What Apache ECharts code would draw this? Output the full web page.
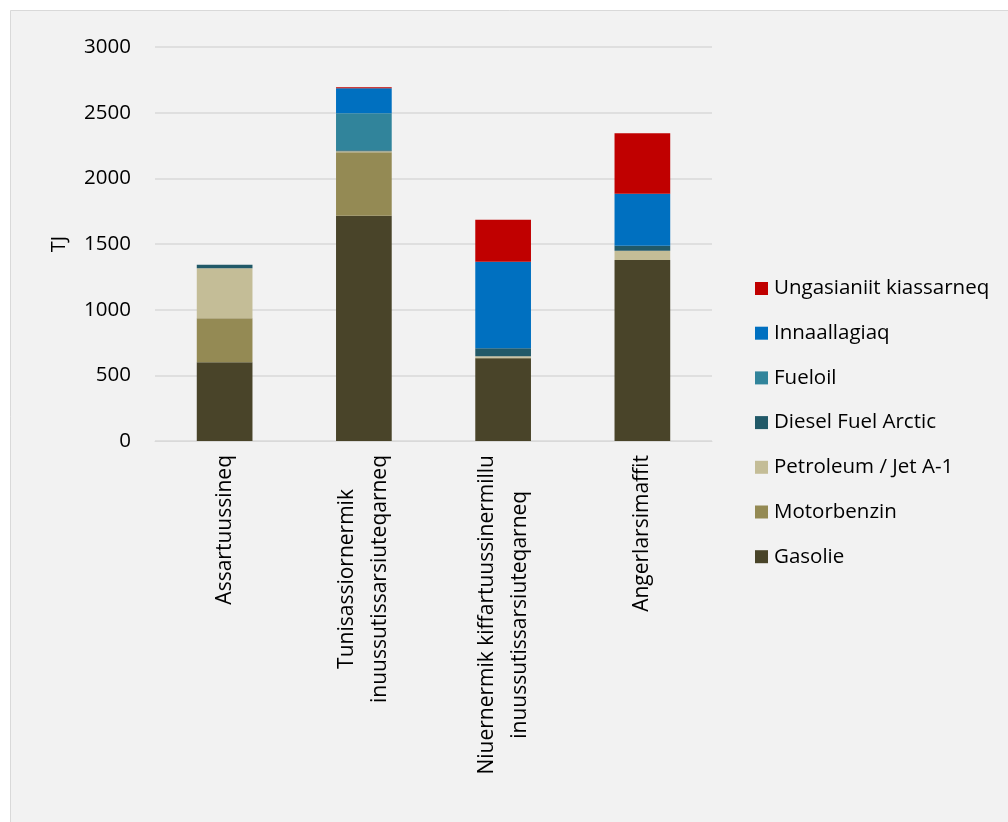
<!DOCTYPE html>
<html><head><meta charset="utf-8">
<script src="https://cdn.jsdelivr.net/npm/echarts@6/dist/echarts.min.js"></script>
<style>html,body{margin:0;padding:0;background:#fff}#c{width:1008px;height:822px}</style>
</head><body><div id="c"></div>
<script>
const categories = ['Assartuussineq', 'Tunisassiornermik\ninuussutissarsiuteqarneq', 'Niuernermik kiffartuussinermillu\ninuussutissarsiuteqarneq', 'Angerlarsimaffit'];
const seriesNames = ['Gasolie', 'Motorbenzin', 'Petroleum / Jet A-1', 'Diesel Fuel Arctic', 'Fueloil', 'Innaallagiaq', 'Ungasianiit kiassarneq'];
const gasolie = [600, 1716, 630, 1379];
const motorbenzin = [335, 482, 4, 0];
const petroleum = [381, 8, 12, 69];
const diesel = [26, 8, 61, 38];
const fueloil = [0, 282, 0, 0];
const innaallagiaq = [0, 190, 657, 396];
const ungasianiit = [0, 8, 320, 462];
const yTicks = [0, 500, 1000, 1500, 2000, 2500, 3000];
const colors = ['#494429', '#948A54', '#C4BD97', '#215968', '#31849B', '#0070C0', '#C00000'];
const values = [gasolie, motorbenzin, petroleum, diesel, fueloil, innaallagiaq, ungasianiit];
const FONT = 'Open Sans';
const LABEL_SIZE = 21;

const chart = echarts.init(document.getElementById('c'), null, {renderer: 'canvas'});
const bgRect = {type: 'rect', z: -10, shape: {x: 10.5, y: 10.5, width: 1010, height: 820}, style: {fill: '#F2F2F2', stroke: '#D9D9D9', lineWidth: 1}};
chart.setOption({
  backgroundColor: '#ffffff',
  animation: false,
  textStyle: {fontFamily: FONT},
  graphic: [bgRect],
  grid: {left: 155, right: 296, top: 47, bottom: 381, containLabel: false},
  legend: {
    orient: 'vertical', left: 750, top: 273,
    data: seriesNames.slice().reverse(),
    itemWidth: 13, itemHeight: 13, itemGap: 23.7,
    icon: 'rect',
    textStyle: {fontFamily: FONT, fontSize: 20.5, color: '#000', lineHeight: 20, padding: [0, 0, 0, 1]}
  },
  xAxis: {
    type: 'category', data: categories,
    axisLine: {show: true, lineStyle: {color: '#D9D9D9'}},
    axisTick: {show: false},
    axisLabel: {show: false}
  },
  yAxis: {
    type: 'value', min: yTicks[0], max: yTicks[yTicks.length - 1], interval: 500,
    name: 'TJ', nameLocation: 'middle', nameGap: 86, nameRotate: 90,
    nameTextStyle: {fontFamily: FONT, fontSize: 20, color: '#000'},
    axisLine: {show: false}, axisTick: {show: false},
    axisLabel: {margin: 24, fontFamily: FONT, fontSize: 20.5, color: '#000', formatter: v => String(v)},
    splitLine: {lineStyle: {color: '#D9D9D9', width: 1.5}}
  },
  series: seriesNames.map((n, i) => ({
    name: n, type: 'bar', stack: 'total', data: values[i],
    barWidth: '40%',
    itemStyle: {color: colors[i]}
  }))
});

// category labels: rotated, lines centred, top placed just below the axis
const ctx = document.createElement('canvas').getContext('2d');
ctx.font = LABEL_SIZE + 'px "' + FONT + '"';
const baseY = chart.convertToPixel({yAxisIndex: 0}, 0);
const catLabels = categories.map(cat => {
  const maxW = Math.max.apply(null, cat.split('\n').map(s => ctx.measureText(s).width));
  return {
    type: 'text', z: 10,
    x: chart.convertToPixel({xAxisIndex: 0}, cat),
    y: baseY + 14 + maxW / 2,
    rotation: Math.PI / 2,
    style: {text: cat, align: 'center', verticalAlign: 'middle', lineHeight: 33,
            font: LABEL_SIZE + 'px "' + FONT + '"', fill: '#000'}
  };
});
chart.setOption({graphic: [bgRect].concat(catLabels)}, {replaceMerge: ['graphic']});
</script></body></html>
